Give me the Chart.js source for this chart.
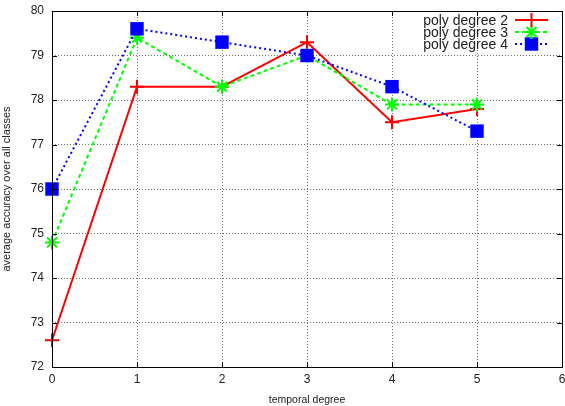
<!DOCTYPE html>
<html>
<head>
<meta charset="utf-8">
<script src="https://cdn.jsdelivr.net/npm/chart.js@4"></script>
<style>
	html, body { margin: 0; padding: 0; background: #fff; }
	#wrap { width: 565px; height: 406px; }
</style>
</head>
<body>
<div id="wrap"><canvas id="chart" width="565" height="406"></canvas></div>
<script>
// values
const degrees = [ 0, 1, 2, 3, 4, 5 ];
const poly2 = [ 72.6, 78.3, 78.3, 79.3, 77.5, 77.8 ];
const poly3 = [ 74.8, 79.4, 78.3, 79.0, 77.9, 77.9 ];
const poly4 = [ 76.0, 79.6, 79.3, 79.0, 78.3, 77.3 ];
const seriesLabels = [ 'poly degree 2', 'poly degree 3', 'poly degree 4' ];

const font = 'Liberation Sans, Arial, Helvetica, sans-serif';

function toPoints( ys ) {
	return degrees.map( ( x, i ) => ( { x: x, y: ys[ i ] } ) );
}

// frame with inward ticks, gnuplot style
const framePlugin = {
	id: 'frame',
	afterDatasetsDraw( chart ) {
		const { ctx, chartArea: a, scales } = chart;
		ctx.save();
		ctx.strokeStyle = '#000';
		ctx.lineWidth = 1;
		ctx.beginPath();
		const len = 5;
		scales.x.ticks.forEach( ( t ) => {
			const px = Math.round( scales.x.getPixelForValue( t.value ) ) + 0.5;
			ctx.moveTo( px, a.bottom );
			ctx.lineTo( px, a.bottom - len );
			ctx.moveTo( px, a.top );
			ctx.lineTo( px, a.top + len );
		} );
		scales.y.ticks.forEach( ( t ) => {
			const py = Math.round( scales.y.getPixelForValue( t.value ) ) + 0.5;
			ctx.moveTo( a.left, py );
			ctx.lineTo( a.left + len, py );
			ctx.moveTo( a.right, py );
			ctx.lineTo( a.right - len, py );
		} );
		ctx.stroke();
		ctx.strokeRect(
			Math.round( a.left ) + 0.5,
			Math.round( a.top ) + 0.5,
			Math.round( a.right - a.left ),
			Math.round( a.bottom - a.top )
		);
		ctx.restore();
	},
};

// key in the top right corner, text left of the sample
const keyPlugin = {
	id: 'key',
	afterDraw( chart ) {
		const { ctx } = chart;
		ctx.save();
		ctx.font = '14px ' + font;
		ctx.textAlign = 'right';
		ctx.textBaseline = 'middle';
		const textRight = 508;
		const x0 = 515;
		const x1 = 548;
		chart.data.datasets.forEach( ( ds ) => {
			const y = 20 + ds.keyRow * 12;
			ctx.fillStyle = '#222';
			ctx.fillText( ds.label, textRight, y + 1 );
			ctx.strokeStyle = ds.borderColor;
			ctx.lineWidth = ds.borderWidth;
			ctx.setLineDash( ds.borderDash || [] );
			ctx.beginPath();
			ctx.moveTo( x0, y );
			ctx.lineTo( x1, y );
			ctx.stroke();
			ctx.setLineDash( [] );
			ctx.fillStyle = ds.backgroundColor;
			ctx.lineWidth = ds.pointBorderWidth;
			Chart.helpers.drawPoint(
				ctx,
				{
					pointStyle: ds.pointStyle,
					radius: ds.pointRadius,
					borderWidth: ds.pointBorderWidth,
					rotation: 0,
				},
				( x0 + x1 ) / 2,
				y
			);
		} );
		ctx.restore();
	},
};

const lineConfig = {
	type: 'line',
	data: {
		datasets: [
			{
				label: seriesLabels[ 2 ],
				data: toPoints( poly4 ),
				borderColor: '#0000ff',
				backgroundColor: '#0000ff',
				borderWidth: 2,
				borderDash: [ 2, 3 ],
				pointStyle: 'rect',
				pointRadius: 9.5,
				pointBorderWidth: 0,
				order: 1,
				keyRow: 2,
			},
			{
				label: seriesLabels[ 1 ],
				data: toPoints( poly3 ),
				borderColor: '#00ff00',
				backgroundColor: '#00ff00',
				borderWidth: 2,
				borderDash: [ 4, 3 ],
				pointStyle: 'star',
				pointRadius: 7,
				pointBorderWidth: 2,
				order: 2,
				keyRow: 1,
			},
			{
				label: seriesLabels[ 0 ],
				data: toPoints( poly2 ),
				borderColor: '#ff0000',
				backgroundColor: '#ff0000',
				borderWidth: 2,
				pointStyle: 'cross',
				pointRadius: 7,
				pointBorderWidth: 2,
				order: 3,
				keyRow: 0,
			},
		],
	},
	options: {
		responsive: false,
		animation: false,
		clip: false,
		layout: {
			autoPadding: false,
			padding: { top: 11, right: 3, bottom: 0, left: 0 },
		},
		plugins: {
			legend: { display: false },
			tooltip: { enabled: false },
		},
		elements: {
			line: { tension: 0 },
		},
		scales: {
			x: {
				type: 'linear',
				min: 0,
				max: 6,
				afterFit( scale ) {
					scale.height = 39;
					scale.paddingLeft = 0;
					scale.paddingRight = 0;
				},
				ticks: {
					stepSize: 1,
					color: '#222',
					font: { family: font, size: 12 },
					padding: 5,
				},
				grid: {
					color: 'rgba(0,0,0,0.55)',
					drawTicks: false,
				},
				border: { display: false, dash: [ 1, 2 ] },
				title: {
					display: true,
					text: 'temporal degree',
					color: '#222',
					font: { family: font, size: 10.5 },
					padding: { top: 2, bottom: 0 },
				},
			},
			y: {
				min: 72,
				max: 80,
				afterFit( scale ) {
					scale.width = 52;
					scale.paddingTop = 0;
					scale.paddingBottom = 0;
				},
				ticks: {
					stepSize: 1,
					color: '#222',
					font: { family: font, size: 12 },
					padding: 8,
				},
				grid: {
					color: 'rgba(0,0,0,0.55)',
					drawTicks: false,
				},
				border: { display: false, dash: [ 1, 2 ] },
				title: {
					display: true,
					text: 'average accuracy over all classes',
					color: '#222',
					font: { family: font, size: 11 },
					padding: { top: 0, bottom: 6 },
				},
			},
		},
	},
	plugins: [ framePlugin, keyPlugin ],
};

new Chart( document.getElementById( 'chart' ), lineConfig );
</script>
</body>
</html>
